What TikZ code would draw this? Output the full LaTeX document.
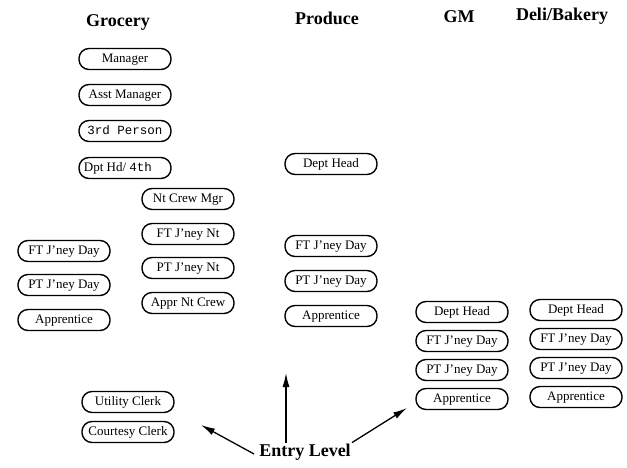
\documentclass[tikz,border=0pt]{standalone}
\usepackage{fontspec}
\setmainfont{Liberation Serif}
\setmonofont{Liberation Mono}
\usetikzlibrary{positioning}
\usetikzlibrary{arrows.meta}

\tikzset{
    job/.style={draw, rounded corners=10pt, line width=1.4pt, minimum width=92pt, minimum height=21pt, inner sep=0pt, text height=9pt, text depth=2.5pt, font=\fontsize{13}{15}\selectfont},
    dept/.style={font=\fontsize{18}{20}\selectfont\bfseries},
    entryarrow/.style={line width=1.3pt, -{Latex[length=14pt,width=7pt]}}
}

\begin{document}
\begin{tikzpicture}[x=1pt,y=-1pt]
    % Page size (pixels of the reference)
    \useasboundingbox (0,0) rectangle (627,467);

    % Departments
    \node[dept] (grocery) at (118,22) {Grocery};
    \node[dept] (produce) at (327,18) {Produce};
    \node[dept] (gm) at (459,17) {GM};
    \node[dept] (deli) at (562,16) {Deli/Bakery};

    % Grocery -- day ladder
    \node[job] (manager) at (125,59) {Manager};
    \node[job] (asstmgr) at (125,95) {Asst Manager};
    \node[job] (third) at (125,131) {\fontsize{12.5}{14}\selectfont\ttfamily 3rd Person};
    \node[job] (dpthd) at (125,168) {\hspace*{-14pt}Dpt Hd/ {\fontsize{12.5}{14}\selectfont\ttfamily 4th}};
    \node[job] (grocft) at (64,251) {FT J'ney Day};
    \node[job] (grocpt) at (64,285) {PT J'ney Day};
    \node[job] (grocappr) at (64,320) {Apprentice};

    % Grocery -- night crew
    \node[job] (ntmgr) at (188,199) {Nt Crew Mgr};
    \node[job] (ntft) at (188,234) {FT J'ney Nt};
    \node[job] (ntpt) at (188,268) {PT J'ney Nt};
    \node[job] (ntappr) at (188,303) {Appr Nt Crew};

    % Grocery -- clerks
    \node[job] (utility) at (128,402) {Utility Clerk};
    \node[job] (courtesy) at (128,432) {Courtesy Clerk};

    % Produce
    \node[job] (prodhead) at (331,164) {Dept Head};
    \node[job] (prodft) at (331,246) {FT J'ney Day};
    \node[job] (prodpt) at (331,281) {PT J'ney Day};
    \node[job] (prodappr) at (331,316) {Apprentice};

    % GM
    \node[job] (gmhead) at (462,312) {Dept Head};
    \node[job] (gmft) at (462,341) {FT J'ney Day};
    \node[job] (gmpt) at (462,370) {PT J'ney Day};
    \node[job] (gmappr) at (462,399) {Apprentice};

    % Deli/Bakery
    \node[job] (delihead) at (576,310) {Dept Head};
    \node[job] (delift) at (576,339) {FT J'ney Day};
    \node[job] (delipt) at (576,368) {PT J'ney Day};
    \node[job] (deliappr) at (576,397) {Apprentice};

    % Entry level arrows
    \node[dept, inner sep=1pt] (entry) at (305,452) {Entry Level};
    \coordinate (toclerks) at (201,425);
    \coordinate (toproduce) at (286,373);
    \coordinate (togm) at (407,408);
    \draw[entryarrow] ([xshift=-4pt,yshift=-2pt]entry.west) -- (toclerks);
    \draw[entryarrow] (entry.north -| toproduce) -- (toproduce);
    \draw[entryarrow] (entry.north east) -- (togm);
\end{tikzpicture}
\end{document}
